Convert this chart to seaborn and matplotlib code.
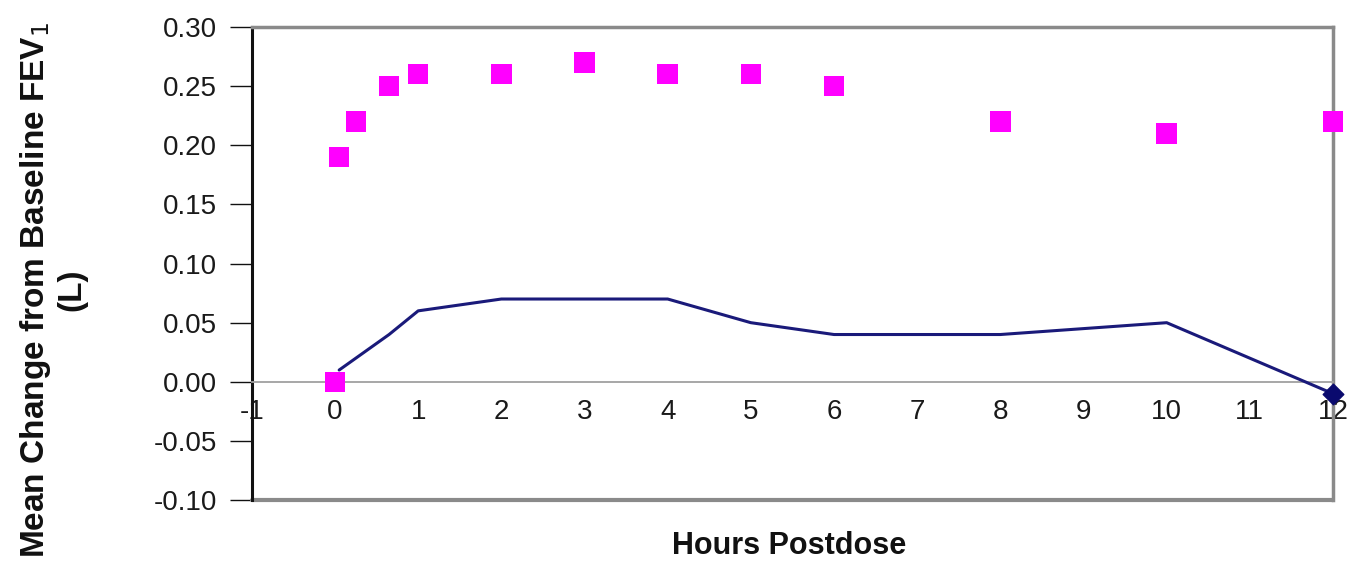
import numpy as np
import pandas as pd
import seaborn as sns
import matplotlib.pyplot as plt

# --- data ---
hours_sq = [0, 0.05, 0.25, 0.65, 1, 2, 3, 4, 5, 6, 8, 10, 12]
fev_sq = [0.00, 0.19, 0.22, 0.25, 0.26, 0.26, 0.27, 0.26, 0.26, 0.25, 0.22, 0.21, 0.22]

hours_line = [0.05, 0.25, 0.65, 1, 2, 3, 4, 5, 6, 8, 10, 12]
fev_line = [0.01, 0.02, 0.04, 0.06, 0.07, 0.07, 0.07, 0.05, 0.04, 0.04, 0.05, -0.01]

x_ticks = list(range(-1, 13))
y_ticks = [-0.10, -0.05, 0.00, 0.05, 0.10, 0.15, 0.20, 0.25, 0.30]

sns.set_style("white")
plt.rcParams['font.family'] = ['Liberation Sans', 'DejaVu Sans']

fig = plt.figure(figsize=(13.54, 5.71), dpi=100)
ax = fig.add_axes([0.186, 0.124, 0.7985, 0.829])

df_sq = pd.DataFrame({"hours": hours_sq, "fev": fev_sq})
df_line = pd.DataFrame({"hours": hours_line, "fev": fev_line})

sns.lineplot(data=df_line, x="hours", y="fev", color="#1a1a7a", linewidth=2.2, ax=ax, zorder=3)
# end marker on the last point of the line
ax.scatter(hours_line[-1:], fev_line[-1:], marker="D", s=110, color="#0a0a6e", zorder=5, clip_on=False)
sns.scatterplot(data=df_sq, x="hours", y="fev", marker="s", s=220, color="#ff00ff",
                edgecolor="none", ax=ax, zorder=4, clip_on=False)

# x axis crosses at zero, like the Excel original
ax.spines['bottom'].set_position(('data', 0))
ax.spines['bottom'].set_color("#a0a0a0")
ax.spines['bottom'].set_linewidth(1.3)
ax.spines['left'].set_color("#111111")
ax.spines['left'].set_linewidth(2.2)
for s in ['top', 'right']:
    ax.spines[s].set_color("#8a8a8a")
    ax.spines[s].set_linewidth(2.5)
ax.axhline(-0.10, color="#8a8a8a", linewidth=3, clip_on=False, zorder=2)

ax.set_xlim(-1, 12)
ax.set_ylim(-0.10, 0.30)
ax.set_xticks(x_ticks)
ax.set_yticks(y_ticks)
ax.set_yticklabels([f"{v:.2f}" for v in y_ticks])
ax.set_xticklabels([str(v) for v in x_ticks])

ax.tick_params(axis='x', length=0, pad=12, labelsize=20, labelcolor="#1a1a1a")
ax.tick_params(axis='y', length=16, width=1, color="#111111", direction='out', left=True,
               pad=9, labelsize=20, labelcolor="#1a1a1a")

ax.set_xlabel("")
ax.set_ylabel("Mean Change from Baseline FEV$_1$\n(L)", fontsize=24, fontweight='bold',
              linespacing=1.15, color="#111111")
ax.yaxis.set_label_coords(-0.152, 0.445)
fig.text(0.583, 0.03, "Hours Postdose", ha='center', fontsize=22, fontweight='bold',
         color="#111111")

fig.savefig("out.png", dpi=100)
